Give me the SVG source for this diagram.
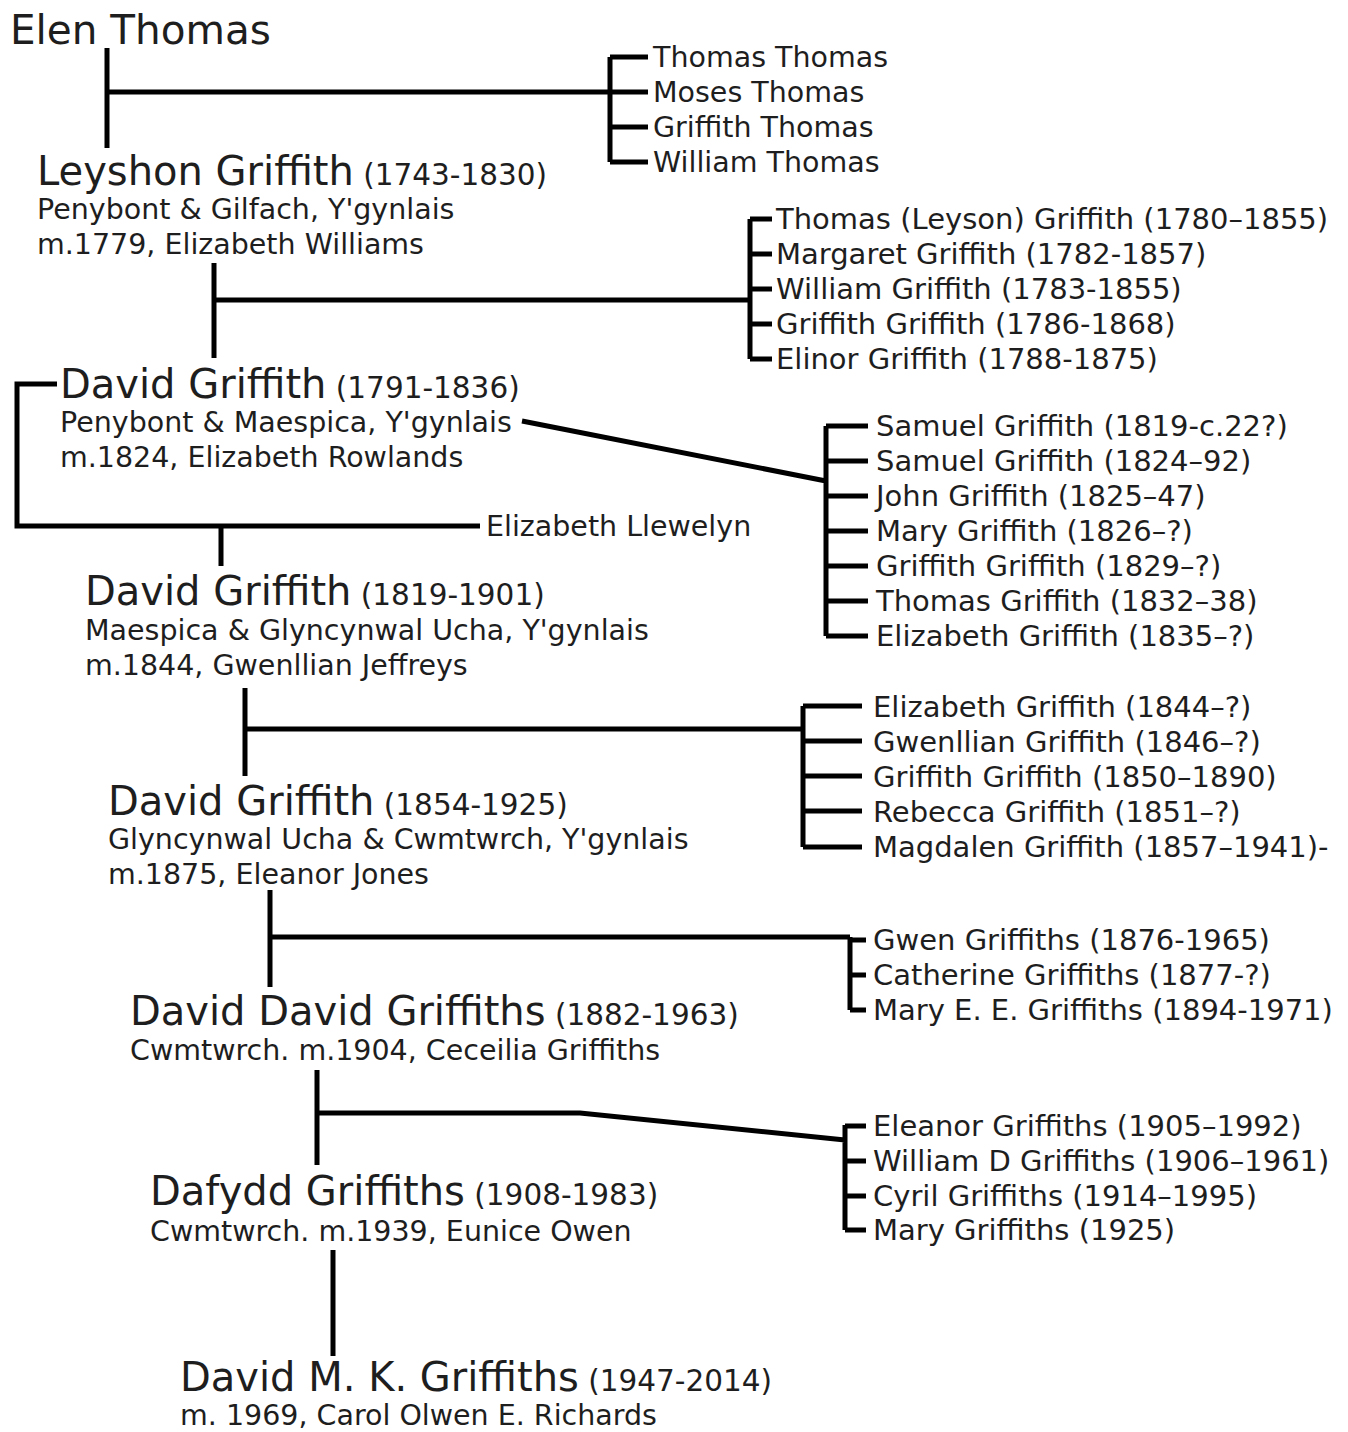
<svg xmlns="http://www.w3.org/2000/svg" width="1348" height="1432" viewBox="0 0 1348 1432">
<style>
text{font-family:"DejaVu Sans","Verdana",sans-serif;fill:#1e1e1e}
.nm{font-size:40px}
.dt{font-size:29.5px}
.sm{font-size:28.5px}
.ch{font-size:29px}
.big{font-size:40.5px}
#connectors path{stroke:#000;stroke-width:5;fill:none;stroke-linecap:butt;stroke-linejoin:miter}
</style>
<rect width="1348" height="1432" fill="#fff"/>
<g id="connectors">
<path d="M107 48V148M107 92H610M610 57V162M610 57H648M610 92H648M610 127H648M610 162H648"/>
<path d="M214 263V358M214 300H750M750 219V359M750 219H772M750 254H772M750 289H772M750 324H772M750 359H772"/>
<path d="M57 384H17V526H480M221 526V566"/>
<path d="M522 421L826 481M826 426V636M826 426H868M826 461H868M826 496H868M826 531H868M826 566H868M826 601H868M826 636H868"/>
<path d="M245 688V776M245 729H803M803 706V847M803 706H862M803 741H862M803 776H862M803 811H862M803 847H862"/>
<path d="M270 890V987M270 937H850M850 937V1010M850 940H866M850 975H866M850 1010H866"/>
<path d="M317 1070V1165M317 1113H580L845 1140M845 1125V1230M845 1126H866M845 1161H866M845 1196H866M845 1230H866"/>
<path d="M333 1250V1356"/>
</g>
<g id="elen-thomas"><text class="big" x="10" y="44">Elen Thomas</text></g>
<g id="thomas-children">
<text class="sm" x="653" y="67">Thomas Thomas</text>
<text class="sm" x="653" y="102">Moses Thomas</text>
<text class="sm" x="653" y="137">Griffith Thomas</text>
<text class="sm" x="653" y="172">William Thomas</text>
</g>
<g id="leyshon-griffith">
<text x="37" y="185"><tspan class="nm">Leyshon Griffith</tspan><tspan class="dt"> (1743-1830)</tspan></text>
<text class="sm" x="37" y="219">Penybont &amp; Gilfach, Y'gynlais</text>
<text class="sm" x="37" y="254">m.1779, Elizabeth Williams</text>
</g>
<g id="leyshon-children">
<text class="ch" x="776" y="229">Thomas (Leyson) Griffith (1780–1855)</text>
<text class="ch" x="776" y="264">Margaret Griffith (1782-1857)</text>
<text class="ch" x="776" y="299">William Griffith (1783-1855)</text>
<text class="ch" x="776" y="334">Griffith Griffith (1786-1868)</text>
<text class="ch" x="776" y="369">Elinor Griffith (1788-1875)</text>
</g>
<g id="david-griffith-1791">
<text x="60" y="398"><tspan class="nm">David Griffith</tspan><tspan class="dt"> (1791-1836)</tspan></text>
<text class="sm" x="60" y="432">Penybont &amp; Maespica, Y'gynlais</text>
<text class="sm" x="60" y="467">m.1824, Elizabeth Rowlands</text>
</g>
<g id="elizabeth-llewelyn"><text class="sm" x="486" y="536">Elizabeth Llewelyn</text></g>
<g id="david-1791-children">
<text class="ch" x="876" y="436">Samuel Griffith (1819-c.22?)</text>
<text class="ch" x="876" y="471">Samuel Griffith (1824–92)</text>
<text class="ch" x="876" y="506">John Griffith (1825–47)</text>
<text class="ch" x="876" y="541">Mary Griffith (1826–?)</text>
<text class="ch" x="876" y="576">Griffith Griffith (1829–?)</text>
<text class="ch" x="876" y="611">Thomas Griffith (1832–38)</text>
<text class="ch" x="876" y="646">Elizabeth Griffith (1835–?)</text>
</g>
<g id="david-griffith-1819">
<text x="85" y="605"><tspan class="nm">David Griffith</tspan><tspan class="dt"> (1819-1901)</tspan></text>
<text class="sm" x="85" y="640">Maespica &amp; Glyncynwal Ucha, Y'gynlais</text>
<text class="sm" x="85" y="675">m.1844, Gwenllian Jeffreys</text>
</g>
<g id="david-1819-children">
<text class="ch" x="873" y="717">Elizabeth Griffith (1844–?)</text>
<text class="ch" x="873" y="752">Gwenllian Griffith (1846–?)</text>
<text class="ch" x="873" y="787">Griffith Griffith (1850–1890)</text>
<text class="ch" x="873" y="822">Rebecca Griffith (1851–?)</text>
<text class="ch" x="873" y="857">Magdalen Griffith (1857–1941)-</text>
</g>
<g id="david-griffith-1854">
<text x="108" y="815"><tspan class="nm">David Griffith</tspan><tspan class="dt"> (1854-1925)</tspan></text>
<text class="sm" x="108" y="849">Glyncynwal Ucha &amp; Cwmtwrch, Y'gynlais</text>
<text class="sm" x="108" y="884">m.1875, Eleanor Jones</text>
</g>
<g id="david-1854-children">
<text class="ch" x="873" y="950">Gwen Griffiths (1876-1965)</text>
<text class="ch" x="873" y="985">Catherine Griffiths (1877-?)</text>
<text class="ch" x="873" y="1020">Mary E. E. Griffiths (1894-1971)</text>
</g>
<g id="david-david-griffiths">
<text x="130" y="1025"><tspan class="nm">David David Griffiths</tspan><tspan class="dt"> (1882-1963)</tspan></text>
<text class="sm" x="130" y="1060">Cwmtwrch. m.1904, Ceceilia Griffiths</text>
</g>
<g id="david-david-children">
<text class="ch" x="873" y="1136">Eleanor Griffiths (1905–1992)</text>
<text class="ch" x="873" y="1171">William D Griffiths (1906–1961)</text>
<text class="ch" x="873" y="1206">Cyril Griffiths (1914–1995)</text>
<text class="ch" x="873" y="1240">Mary Griffiths (1925)</text>
</g>
<g id="dafydd-griffiths">
<text x="150" y="1205"><tspan class="nm">Dafydd Griffiths</tspan><tspan class="dt"> (1908-1983)</tspan></text>
<text class="sm" x="150" y="1241">Cwmtwrch. m.1939, Eunice Owen</text>
</g>
<g id="david-mk-griffiths">
<text x="180" y="1391"><tspan class="nm">David M. K. Griffiths</tspan><tspan class="dt"> (1947-2014)</tspan></text>
<text class="sm" x="180" y="1425">m. 1969, Carol Olwen E. Richards</text>
</g>
</svg>
